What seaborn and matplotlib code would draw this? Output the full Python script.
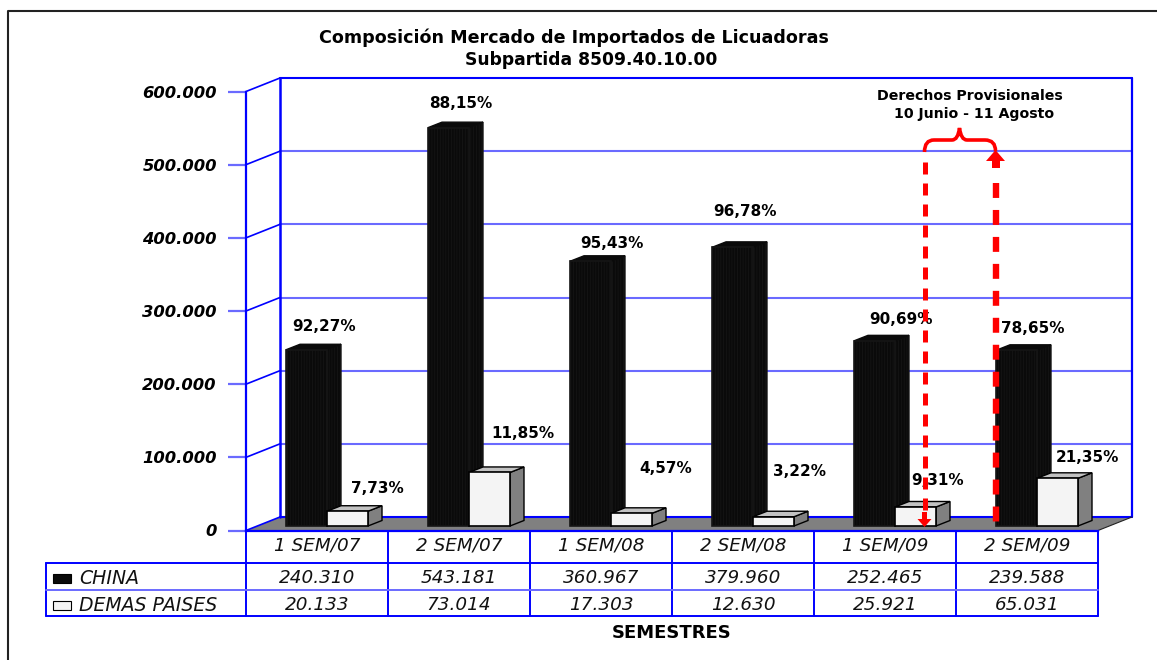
# Composicion mercado de importados de licuadoras (3D look column chart with data table)
import numpy as np
import pandas as pd
import matplotlib
matplotlib.use("Agg")
import matplotlib.pyplot as plt
import seaborn as sns
from matplotlib.patches import Polygon, PathPatch, Rectangle
from matplotlib.path import Path
from matplotlib.transforms import Affine2D

# ----------------------------
# Data
# ----------------------------
semestres = ["1 SEM/07", "2 SEM/07", "1 SEM/08", "2 SEM/08", "1 SEM/09", "2 SEM/09"]
china = [240310, 543181, 360967, 379960, 252465, 239588]
demas = [20133, 73014, 17303, 12630, 25921, 65031]
pct_china = [92.27, 88.15, 95.43, 96.78, 90.69, 78.65]
pct_demas = [7.73, 11.85, 4.57, 3.22, 9.31, 21.35]
y_ticks = [0, 100000, 200000, 300000, 400000, 500000, 600000]

# label offsets from the top of each bar, in pixels
off_china = [(18, 23), (12, 24), (21, 18), (12, 36), (26, 21), (16, 22)]
off_demas = [(30, 23), (33, 39), (34, 45), (26, 45), (22, 26), (30, 21)]

W, H = 1157, 660
BLUE = "#0000ff"
LIGHT = "#6a6aff"
RED = "#ff0000"

sns.set_theme(style="white")
plt.rcParams["font.family"] = ["DejaVu Sans"]
plt.rcParams["hatch.linewidth"] = 0.6

df = pd.DataFrame({
    "semestre": semestres * 2,
    "valor": china + demas,
    "serie": ["CHINA"] * 6 + ["DEMAS PAISES"] * 6,
})

fig = plt.figure(figsize=(W / 100, H / 100), dpi=100, facecolor="white")


def px_axes(left, top, right, bottom, **kw):
    return fig.add_axes([left / W, 1 - bottom / H, (right - left) / W, (bottom - top) / H], **kw)


# ----------------------------
# Front plane axis and walls
# ----------------------------
ax = px_axes(246, 91.5, 1098, 530.5)
ax.set_xlim(0, 6)
ax.set_ylim(0, 600000)
ax.patch.set_visible(False)
for side in ["top", "right"]:
    ax.spines[side].set_visible(False)
ax.spines["left"].set_color(BLUE)
ax.spines["left"].set_linewidth(1.6)
ax.spines["bottom"].set_color(BLUE)
ax.spines["bottom"].set_linewidth(1.6)
ax.set_xticks([])
ax.set_yticks(y_ticks)
ax.set_yticklabels([f"{v:,}".replace(",", ".") for v in y_ticks],
                   fontsize=11.8, fontweight="bold", fontstyle="italic", color="black")
ax.tick_params(axis="y", left=True, length=13, width=1.6, color=LIGHT, pad=8)

back = ax.transData + Affine2D().translate(34, 13.5)

# grey floor, from front edge to back edge
floor_front = ax.transData.transform([(0, 0), (6, 0)])
floor_back = back.transform([(6, 0), (0, 0)])
ax.add_patch(Polygon(np.vstack([floor_front, floor_back]), closed=True, transform=None,
                     facecolor="#808080", edgecolor="none", zorder=0.5, clip_on=False))
ax.plot([6, 6], [0, 600000], transform=back, color=BLUE, lw=1.6, clip_on=False, zorder=0.8)
ax.plot([0, 0], [0, 600000], transform=back, color=BLUE, lw=1.8, clip_on=False, zorder=0.8)
for v in y_ticks:
    top_line = v == y_ticks[-1] or v == 0
    ax.plot([0, 6], [v, v], transform=back, color=BLUE if top_line else LIGHT,
            lw=1.5, clip_on=False, zorder=0.7)
    p0 = ax.transData.transform((0, v))
    p1 = back.transform((0, v))
    ax.plot([p0[0], p1[0]], [p0[1], p1[1]], transform=None, color=BLUE, lw=1.2,
            clip_on=False, zorder=0.8)
p0 = ax.transData.transform((6, 0))
p1 = back.transform((6, 0))
ax.plot([p0[0], p1[0]], [p0[1], p1[1]], transform=None, color="#222222", lw=0.8,
        clip_on=False, zorder=0.8)

# ----------------------------
# Bars
# ----------------------------
bars_ax = px_axes(256, 86, 1108, 526)
sns.barplot(data=df, x="semestre", y="valor", hue="serie", hue_order=["CHINA", "DEMAS PAISES"],
            palette=["#0a0a0a", "#f4f4f4"], saturation=1, width=82 / 142, gap=0, legend=False,
            edgecolor="black", linewidth=1.2, ax=bars_ax)
bars_ax.set_ylim(0, 600000)
bars_ax.set_xlim(-0.5, 5.5)
bars_ax.axis("off")
bars_ax.patch.set_visible(False)

dx = 14 / (852 / 6)
dy = 5.5 * 600000 / 440
sides = [("#0a0a0a", "#0a0a0a"), ("#808080", "#c2c2c2")]
for cont, (side_col, top_col), offsets, pcts in zip(
        bars_ax.containers, sides, [off_china, off_demas], [pct_china, pct_demas]):
    dark = side_col == "#0a0a0a"
    for bar, off, pct in zip(cont, offsets, pcts):
        x0, w, h = bar.get_x(), bar.get_width(), bar.get_height()
        bars_ax.add_patch(Polygon([(x0 + w, 0), (x0 + w + dx, dy), (x0 + w + dx, h + dy), (x0 + w, h)],
                                  facecolor=side_col, edgecolor="#151515" if dark else "black", lw=1.0,
                                  hatch="||||||" if dark else None,
                                  clip_on=False, zorder=bar.get_zorder() - 0.1))
        bars_ax.add_patch(Polygon([(x0, h), (x0 + dx, h + dy), (x0 + w + dx, h + dy), (x0 + w, h)],
                                  facecolor=top_col, edgecolor="#0a0a0a" if dark else "black", lw=1.0,
                                  clip_on=False, zorder=bar.get_zorder() - 0.1))
        bar.set_clip_on(False)
        if dark:
            bar.set_hatch("||||||")
            bar.set_edgecolor("#151515")
        bars_ax.annotate(f"{pct:.2f}%".replace(".", ","), xy=(x0 + w / 2, h), xytext=off,
                         textcoords="offset pixels", ha="center", va="center",
                         fontsize=11, fontweight="bold", color="black",
                         annotation_clip=False, zorder=6)

# ----------------------------
# Overlay in pixel coordinates: frame, table, titles, red marks
# ----------------------------
pix = fig.add_axes([0, 0, 1, 1], zorder=5)
pix.set_xlim(0, W)
pix.set_ylim(H, 0)
pix.axis("off")
pix.patch.set_visible(False)

pix.plot([7.5, 7.5, 1157], [660, 10.5, 10.5], color="#222222", lw=1.5)

pix.text(574, 38, "Composición Mercado de Importados de Licuadoras", ha="center", va="center",
         fontsize=12.6, fontweight="bold", color="black")
pix.text(591, 60, "Subpartida 8509.40.10.00", ha="center", va="center",
         fontsize=12.3, fontweight="bold", color="black")
pix.text(970, 96, "Derechos Provisionales", ha="center", va="center",
         fontsize=10.2, fontweight="bold", color="black")
pix.text(974, 114, "10 Junio - 11 Agosto", ha="center", va="center",
         fontsize=10.2, fontweight="bold", color="black")
pix.text(672, 633, "SEMESTRES", ha="center", va="center", fontsize=13, fontweight="bold", color="black")

# data table
col_x = [246, 388, 530, 672, 814, 956, 1098]
row_y = [530.5, 562.5, 590, 615.5]
for x in col_x:
    pix.plot([x, x], [row_y[0], row_y[-1]], color=BLUE, lw=1.4, zorder=1)
pix.plot([46, 46], [row_y[1], row_y[-1]], color=BLUE, lw=1.4, zorder=1)
pix.plot([46, 1098], [row_y[1], row_y[1]], color=BLUE, lw=1.4, zorder=1)
pix.plot([46, 1098], [row_y[2], row_y[2]], color=LIGHT, lw=1.4, zorder=1)
pix.plot([46, 1098], [row_y[3], row_y[3]], color=BLUE, lw=1.4, zorder=1)

table_font = dict(ha="center", va="center", fontsize=13.2, fontstyle="italic", color="#111111")
for i, sem in enumerate(semestres):
    cx = (col_x[i] + col_x[i + 1]) / 2
    pix.text(cx, 546, sem, **table_font)
    pix.text(cx, 578, f"{china[i]:,}".replace(",", "."), **table_font)
    pix.text(cx, 605, f"{demas[i]:,}".replace(",", "."), **table_font)

pix.add_patch(Rectangle((53, 574), 18, 9, facecolor="#0a0a0a", edgecolor="black", lw=0.8))
pix.add_patch(Rectangle((53, 601), 18, 9, facecolor="#f4f4f4", edgecolor="black", lw=0.8))
pix.text(79, 579, "CHINA", ha="left", va="center", fontsize=13.6, fontstyle="italic", color="#111111")
pix.text(79, 605.5, "DEMAS PAISES", ha="left", va="center", fontsize=13.6, fontstyle="italic", color="#111111")

# red dashed arrows and brace
pix.plot([924.5, 924.5], [162, 512], color=RED, lw=3.6, dashes=(2.4, 1.8), dash_capstyle="butt", zorder=4)
pix.add_patch(Rectangle((922, 512), 5, 8, facecolor=RED, edgecolor="none", zorder=4))
pix.add_patch(Polygon([(917.5, 519), (931.5, 519), (924.5, 527)], facecolor=RED, edgecolor="none", zorder=4))
pix.plot([995.5, 995.5], [183, 526], color=RED, lw=4.6, dashes=(2.34, 1.88), dash_capstyle="butt", zorder=4)
pix.add_patch(Polygon([(986, 161), (1005, 161), (995.5, 150)], facecolor=RED, edgecolor="none", zorder=4))
pix.add_patch(Rectangle((991.5, 160), 8, 8, facecolor=RED, edgecolor="none", zorder=4))

brace = Path(
    [(924.5, 152), (924.5, 140), (934, 140), (952, 140), (958, 140), (959.5, 128),
     (961, 140), (967, 140), (985, 140), (995.5, 140), (995.5, 151)],
    [Path.MOVETO, Path.CURVE3, Path.CURVE3, Path.LINETO, Path.CURVE3, Path.CURVE3,
     Path.CURVE3, Path.CURVE3, Path.LINETO, Path.CURVE3, Path.CURVE3],
)
pix.add_patch(PathPatch(brace, facecolor="none", edgecolor=RED, lw=2.6, zorder=4))

fig.savefig("out.png", dpi=100)
